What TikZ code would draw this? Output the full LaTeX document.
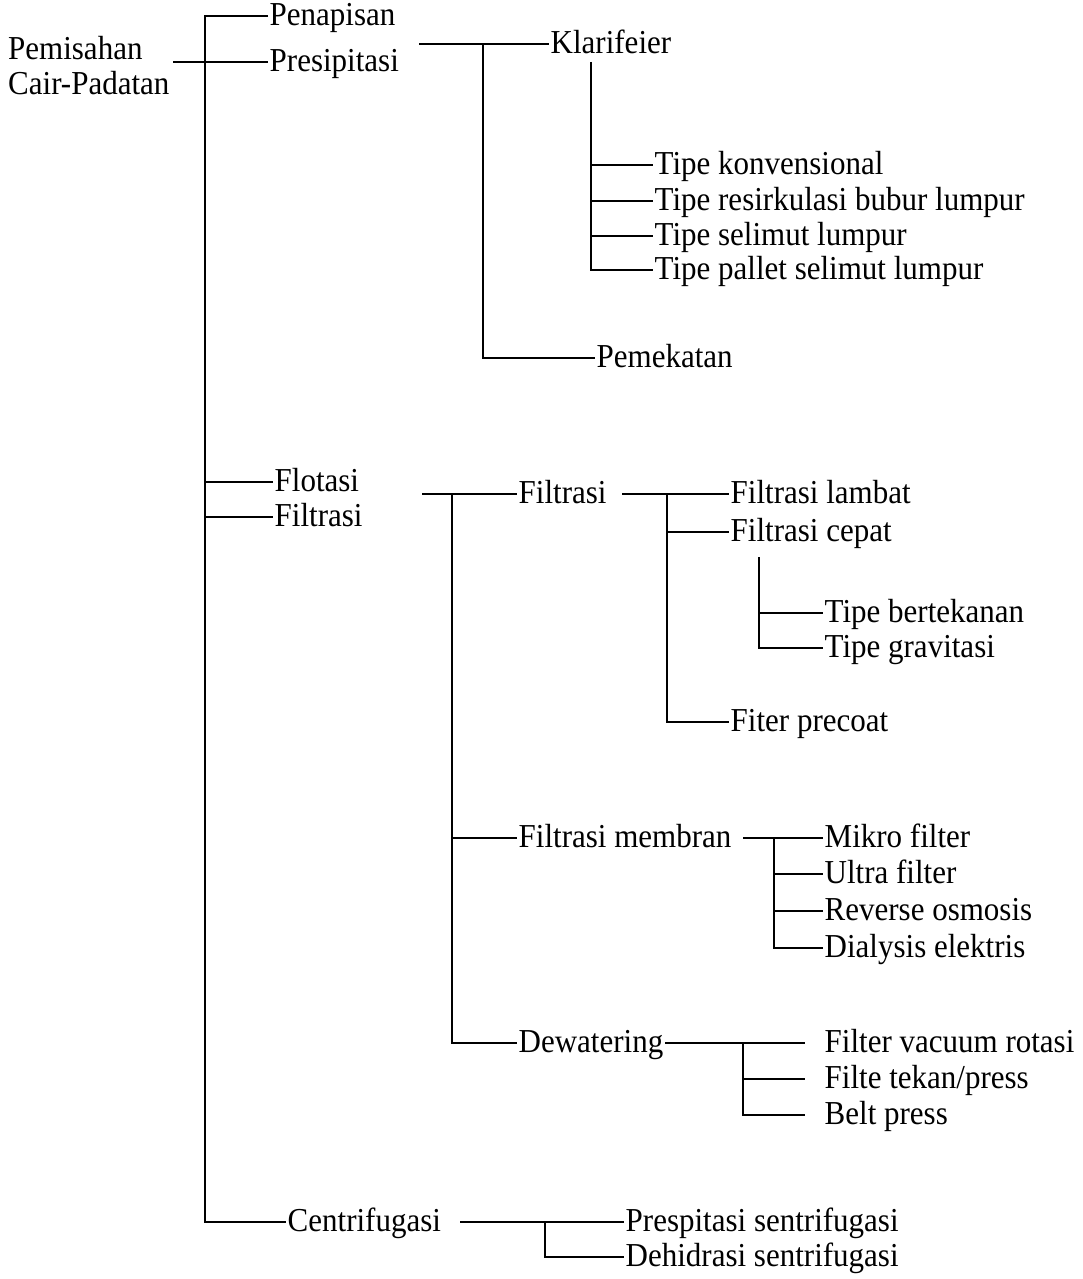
\documentclass[tikz,border=0pt]{standalone}
\usepackage{fontspec}
\setmainfont{Liberation Serif}
\newcommand{\tallt}[1]{\scalebox{1}[1.08]{#1}}
\begin{document}
\begin{tikzpicture}[x=1pt,y=-1pt,
  lbl/.style={anchor=west, inner xsep=1.5pt, inner ysep=0pt, text height=19pt, text depth=0pt, font=\fontsize{31}{35}\selectfont},
  conn/.style={draw=black, line width=2.2pt}]
\useasboundingbox (0,0) rectangle (1082,1279);
% root
\node[anchor=west, align=left, inner sep=0pt, font=\fontsize{31}{35}\selectfont] (root) at (8,66) {\tallt{Pemisahan}\\\tallt{Cair-Padatan}};
% level 1
\node[lbl] (pen) at (268,16) {\tallt{Penapisan}};
\node[lbl] (pres) at (268,62) {\tallt{Presipitasi}};
\node[lbl] (flo) at (273,482) {\tallt{Flotasi}};
\node[lbl] (fil) at (273,517) {\tallt{Filtrasi}};
\node[lbl] (cen) at (286,1222) {\tallt{Centrifugasi}};
% presipitasi subtree
\node[lbl] (kla) at (549,44) {\tallt{Klarifeier}};
\node[lbl] (pem) at (595,358) {\tallt{Pemekatan}};
\node[lbl] (tk) at (653,165) {\tallt{Tipe konvensional}};
\node[lbl] (tr) at (653,201) {\tallt{Tipe resirkulasi bubur lumpur}};
\node[lbl] (ts) at (653,236) {\tallt{Tipe selimut lumpur}};
\node[lbl] (tp) at (653,270) {\tallt{Tipe pallet selimut lumpur}};
% filtrasi subtree
\node[lbl] (f2) at (517,494) {\tallt{Filtrasi}};
\node[lbl] (fl) at (729,494) {\tallt{Filtrasi lambat}};
\node[lbl] (fc) at (729,532) {\tallt{Filtrasi cepat}};
\node[lbl] (tb) at (823,613) {\tallt{Tipe bertekanan}};
\node[lbl] (tg) at (823,648) {\tallt{Tipe gravitasi}};
\node[lbl] (fp) at (729,722) {\tallt{Fiter precoat}};
\node[lbl] (fm) at (517,838) {\tallt{Filtrasi membran}};
\node[lbl] (mf) at (823,838) {\tallt{Mikro filter}};
\node[lbl] (uf) at (823,874) {\tallt{Ultra filter}};
\node[lbl] (ro) at (823,911) {\tallt{Reverse osmosis}};
\node[lbl] (de) at (823,948) {\tallt{Dialysis elektris}};
\node[lbl] (dw) at (517,1043) {\tallt{Dewatering}};
\node[lbl] (fv) at (823,1043) {\tallt{Filter vacuum rotasi}};
\node[lbl] (ft) at (823,1079) {\tallt{Filte tekan/press}};
\node[lbl] (bp) at (823,1115) {\tallt{Belt press}};
% centrifugasi subtree
\node[lbl] (ps) at (624,1222) {\tallt{Prespitasi sentrifugasi}};
\node[lbl] (ds) at (624,1257) {\tallt{Dehidrasi sentrifugasi}};
% junction coordinates
\coordinate (rt) at (205,16);
\coordinate (rb) at (205,1222);
\coordinate (rs) at (173,62);
\coordinate (ps0) at (419,44);
\coordinate (pv) at (483,44);
\coordinate (kv) at (591,62);
\coordinate (fs0) at (422,494);
\coordinate (fv2) at (452,494);
\coordinate (f2s) at (622,494);
\coordinate (f2v) at (667,494);
\coordinate (fcv) at (759,557);
\coordinate (fms) at (743,838);
\coordinate (fmv) at (774,838);
\coordinate (dwv) at (743,1043);
\coordinate (cs) at (460,1222);
\coordinate (cv) at (545,1222);
% root connectors
\draw[conn] (pen.west) -- (rt) -- (rb) -- (cen.west);
\draw[conn] (rs) -- (pres.west);
\draw[conn] (rt |- flo.west) -- (flo.west);
\draw[conn] (rt |- fil.west) -- (fil.west);
% presipitasi
\draw[conn] (ps0) -- (kla.west);
\draw[conn] (pv) |- (pem.west);
\draw[conn] (kv) |- (tp.west);
\draw[conn] (kv |- tk.west) -- (tk.west);
\draw[conn] (kv |- tr.west) -- (tr.west);
\draw[conn] (kv |- ts.west) -- (ts.west);
% filtrasi
\draw[conn] (fs0) -- (f2.west);
\draw[conn] (fv2) |- (dw.west);
\draw[conn] (fv2 |- fm.west) -- (fm.west);
\draw[conn] (f2s) -- (fl.west);
\draw[conn] (f2v) |- (fp.west);
\draw[conn] (f2v |- fc.west) -- (fc.west);
\draw[conn] (fcv) |- (tg.west);
\draw[conn] (fcv |- tb.west) -- (tb.west);
\draw[conn] (fms) -- (mf.west);
\draw[conn] (fmv) |- (de.west);
\draw[conn] (fmv |- uf.west) -- (uf.west);
\draw[conn] (fmv |- ro.west) -- (ro.west);
\draw[conn, shorten >=18pt] (dw.east) -- (fv.west);
\draw[conn, shorten >=18pt] (dwv) |- (bp.west);
\draw[conn, shorten >=18pt] (dwv |- ft.west) -- (ft.west);
% centrifugasi
\draw[conn] (cs) -- (ps.west);
\draw[conn] (cv) |- (ds.west);
\end{tikzpicture}
\end{document}
